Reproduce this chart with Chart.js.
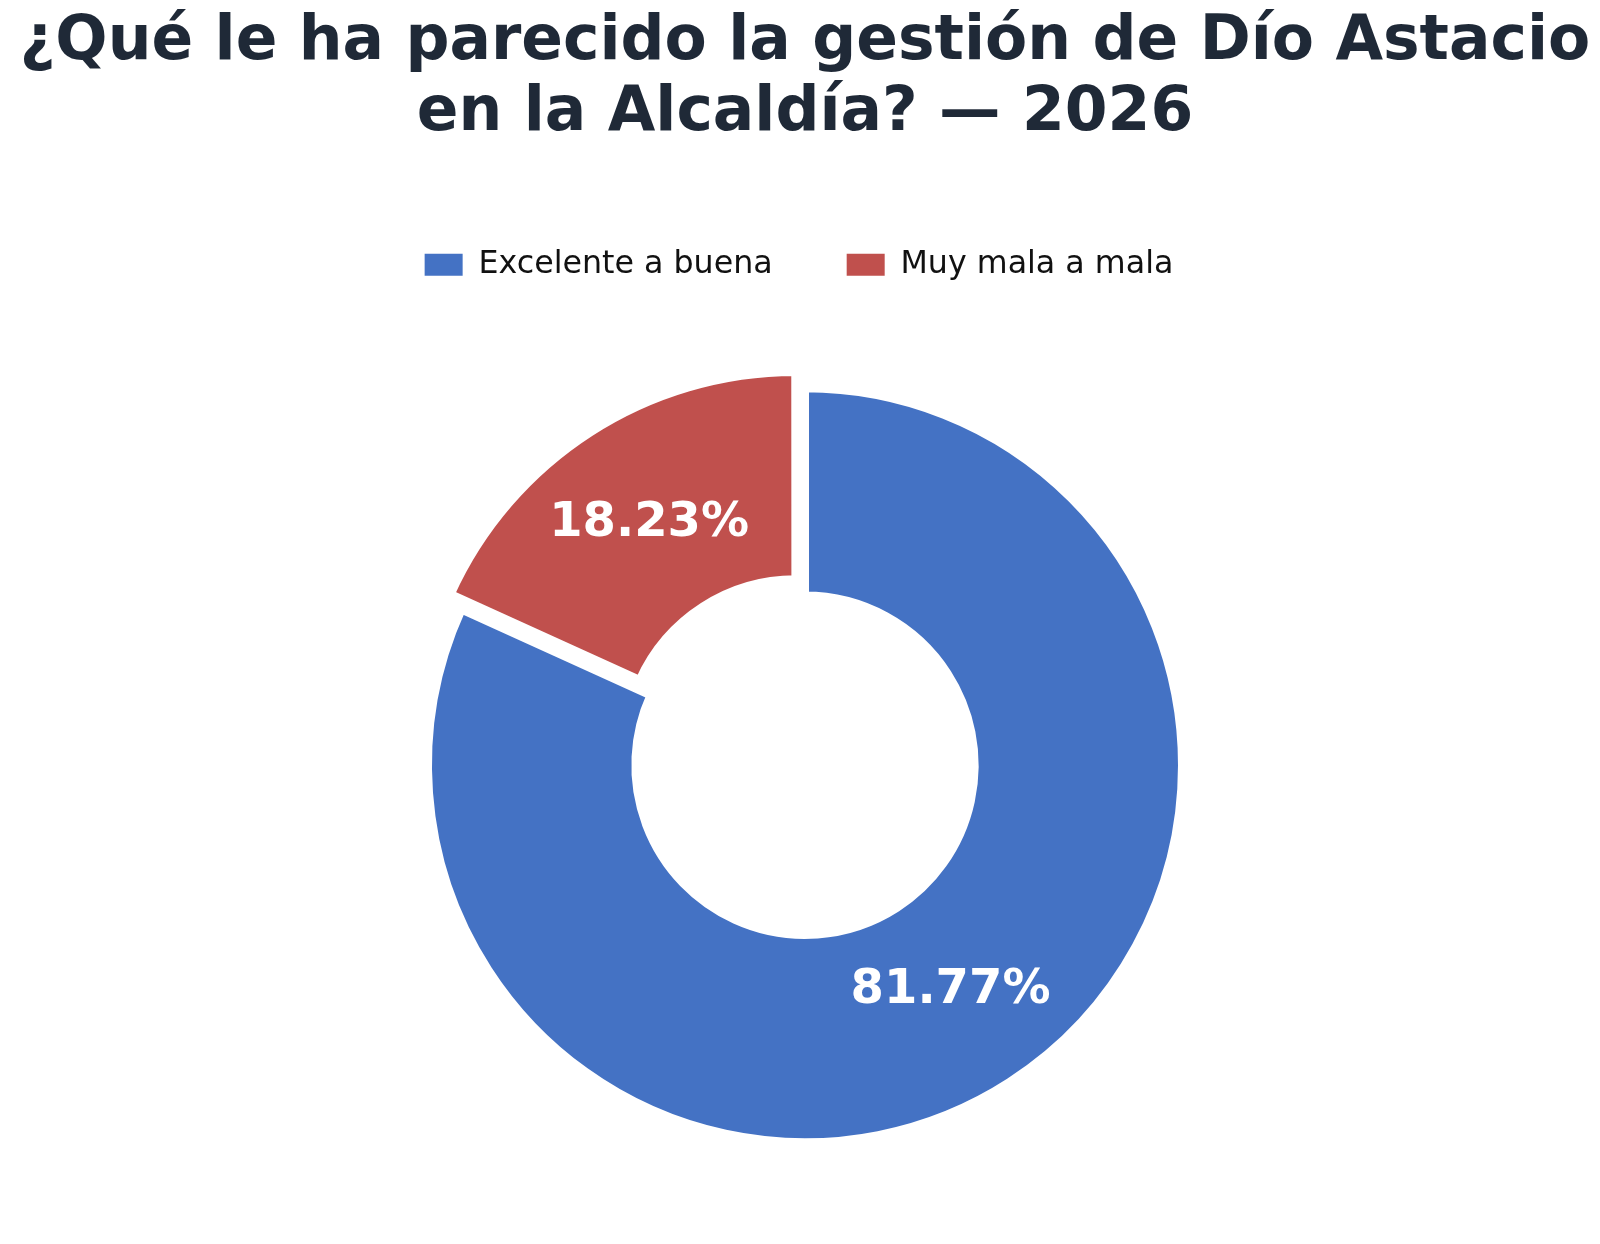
<!DOCTYPE html>
<html>
<head>
<meta charset="utf-8">
<script src="https://cdn.jsdelivr.net/npm/chart.js@4"></script>
<style>
  html, body { margin: 0; padding: 0; background: #ffffff; }
  #wrap { width: 1600px; height: 1244px; position: relative; }
</style>
</head>
<body>
<div id="wrap"><canvas id="c"></canvas></div>
<script>
// ---- data ----
const titleLines = ['¿Qué le ha parecido la gestión de Dío Astacio', 'en la Alcaldía? — 2026'];
const categories = ['Excelente a buena', 'Muy mala a mala'];
const values = [81.77, 18.23];
const sliceColors = ['#4472C4', '#C0504D'];

const total = values.reduce((a, b) => a + b, 0);
const percentLabels = values.map(v => (v / total * 100).toFixed(2) + '%');

const sliceLabelPlugin = {
  id: 'sliceLabels',
  afterDatasetsDraw(chart, args, opts) {
    const ctx = chart.ctx;
    const meta = chart.getDatasetMeta(0);
    ctx.save();
    ctx.font = 'bold 48px "DejaVu Sans"';
    ctx.fillStyle = '#ffffff';
    ctx.textAlign = 'center';
    ctx.textBaseline = 'middle';
    meta.data.forEach((arc, i) => {
      const p = arc.getProps(['x', 'y', 'startAngle', 'endAngle', 'outerRadius', 'circumference'], true);
      const mid = (p.startAngle + p.endAngle) / 2;
      const o = (arc.options.offset || 0) / 4;
      const fix = 1 - Math.sin(Math.min(Math.PI, p.circumference || 0));
      const shift = o + o * fix;
      const d = shift + opts.radius * p.outerRadius;
      ctx.fillText(percentLabels[i], p.x + Math.cos(mid) * d, p.y + Math.sin(mid) * d);
    });
    ctx.restore();
  }
};

// nudge the legend row horizontally (reference legend sits slightly left of centre)
const legendShiftPlugin = {
  id: 'legendShift',
  afterLayout(chart, args, opts) {
    if (chart.legend) {
      chart.legend.left += opts.dx;
      chart.legend.right += opts.dx;
    }
  }
};

new Chart(document.getElementById('c'), {
  type: 'doughnut',
  data: {
    labels: categories,
    datasets: [{
      data: values,
      backgroundColor: sliceColors,
      borderColor: '#ffffff',
      borderWidth: 8,
      offset: [0, 70],
      clip: false
    }]
  },
  options: {
    responsive: true,
    maintainAspectRatio: false,
    animation: false,
    radius: 377,
    cutout: '45%',
    layout: { padding: { left: 10, right: 0, top: 0, bottom: 4 } },
    plugins: {
      title: {
        display: true,
        text: titleLines,
        color: '#1f2937',
        font: { family: 'DejaVu Sans', size: 61.5, weight: 'bold', lineHeight: 1.145 },
        padding: { top: 8, bottom: 26 }
      },
      legend: {
        position: 'top',
        labels: {
          font: { family: 'DejaVu Sans', size: 31.7 },
          color: '#111111',
          boxWidth: 38,
          boxHeight: 22,
          padding: 74,
          generateLabels(chart) {
            const items = Chart.overrides.doughnut.plugins.legend.labels.generateLabels(chart);
            items.forEach(it => { it.lineWidth = 0; it.strokeStyle = it.fillStyle; });
            return items;
          }
        }
      },
      tooltip: { enabled: false },
      sliceLabels: { radius: 0.7124 },
      legendShift: { dx: -6 }
    }
  },
  plugins: [sliceLabelPlugin, legendShiftPlugin]
});
</script>
</body>
</html>
